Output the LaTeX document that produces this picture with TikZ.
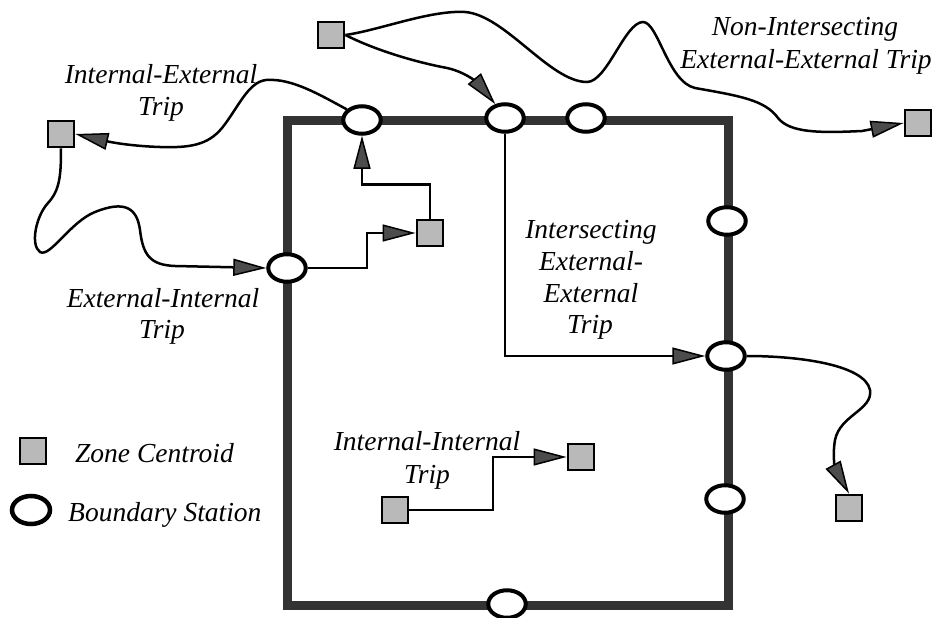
\documentclass[tikz,border=0pt]{standalone}
\usepackage{fontspec}
\setmainfont{Liberation Serif}
\usetikzlibrary{arrows.meta,shapes.geometric}
\begin{document}
\begin{tikzpicture}[x=1pt,y=-1pt,
  frame/.style={line width=9pt, draw=black!80},
  station/.style={ellipse, draw=black, line width=4pt, fill=white, minimum width=37.5pt, minimum height=27.5pt, inner sep=0pt},
  zone/.style={rectangle, draw=black, line width=2.8pt, fill=gray!55, minimum size=26pt, inner sep=0pt},
  trip/.style={line width=2.5pt, draw=black},
  arr/.style={-{Triangle[length=33pt,width=17pt,fill=black!70,line width=1.5pt]}},
  lab/.style={font=\fontsize{27.5}{32}\selectfont\itshape, inner sep=0pt}
]
\useasboundingbox (0,0) rectangle (934,618);

% boundary
\draw[frame] (287,120) rectangle (728,605);

% boundary stations
\node[station] (S1) at (362,120) {};
\node[station] (S2) at (505,118) {};
\node[station] (S3) at (586,118) {};
\node[station] (S4) at (727,221) {};
\node[station] (S5) at (726,356) {};
\node[station] (S6) at (725,499) {};
\node[station] (S7) at (507,604) {};
\node[station] (S8) at (287,268) {};

% zone centroids
\node[zone] (Z1) at (331,35) {};
\node[zone] (Z2) at (61,134) {};
\node[zone] (Z3) at (430,233) {};
\node[zone] (Z4) at (918,123) {};
\node[zone] (Z5) at (849,508) {};
\node[zone] (Z6) at (581,457) {};
\node[zone] (Z7) at (395,510) {};

% internal-external trip
\draw[trip,arr] (S1.145) .. controls (320,95) and (292,78) .. (266,80)
  .. controls (248,82) and (238,108) .. (222,128)
  .. controls (208,145) and (190,148) .. (160,147)
  .. controls (130,146) and (110,142) .. (Z2.east);

% external-internal trip
\draw[trip,arr] (Z2.south) .. controls (61,175) and (60,190) .. (48,203)
  .. controls (36,216) and (30,245) .. (40,252)
  .. controls (50,258) and (70,222) .. (95,212)
  .. controls (125,200) and (137,208) .. (140,230)
  .. controls (143,255) and (150,265) .. (175,266)
  -- (S8.west);

% internal zone to boundary
\draw[trip,arr] (Z3.north) -- ++(0,-34) -| (S1.south);
\draw[trip,arr] (S8.east) -| (367,233) -- (Z3.west);

% Z1 to S2
\draw[trip,arr] (Z1.east) .. controls (375,50) and (415,62) .. (447,68)
  .. controls (470,73) and (482,88) .. (S2.125);

% non-intersecting external-external trip
\draw[trip,arr] (Z1.east) .. controls (380,30) and (430,10) .. (465,12)
  .. controls (505,15) and (550,82) .. (587,82)
  .. controls (607,82) and (625,22) .. (643,22)
  .. controls (658,22) and (668,82) .. (695,88)
  .. controls (740,96) and (765,100) .. (778,118)
  .. controls (790,133) and (820,133) .. (862,131)
  -- (Z4.west);

% intersecting external-external trip
\draw[trip,arr] (S2.south) |- (S5.west);
\draw[trip,arr] (S5.east) .. controls (800,356) and (865,365) .. (870,390)
  .. controls (873,410) and (840,415) .. (835,440)
  .. controls (832,458) and (836,470) .. (Z5.north);

% internal-internal trip
\draw[trip,arr] (Z7.east) -| (493,457) -- (Z6.west);

% labels
\node[lab,anchor=base] (tIE1) at (161,84) {Internal-External};
\node[lab,anchor=base] (tIE2) at (161,115) {Trip};
\node[lab,anchor=base] (tEI1) at (163,307) {External-Internal};
\node[lab,anchor=base] (tEI2) at (162,338) {Trip};
\node[lab,anchor=base] (tNE1) at (805,36) {Non-Intersecting};
\node[lab,anchor=base] (tNE2) at (806,68) {External-External Trip};
\node[lab,anchor=base] (tIX1) at (591,238) {Intersecting};
\node[lab,anchor=base] (tIX2) at (591,270) {External-};
\node[lab,anchor=base] (tIX3) at (591,302) {External};
\node[lab,anchor=base] (tIX4) at (590,333) {Trip};
\node[lab,anchor=base] (tII1) at (427,450) {Internal-Internal};
\node[lab,anchor=base] (tII2) at (427,483) {Trip};

% legend
\node[zone] (LZ) at (33,451) {};
\node[station, line width=4.5pt, minimum width=38pt, minimum height=28pt] (LS) at (31,510) {};
\node[lab,anchor=base west] (LZt) at (75,462) {Zone Centroid};
\node[lab,anchor=base west] (LSt) at (68,521) {Boundary Station};
\end{tikzpicture}
\end{document}
